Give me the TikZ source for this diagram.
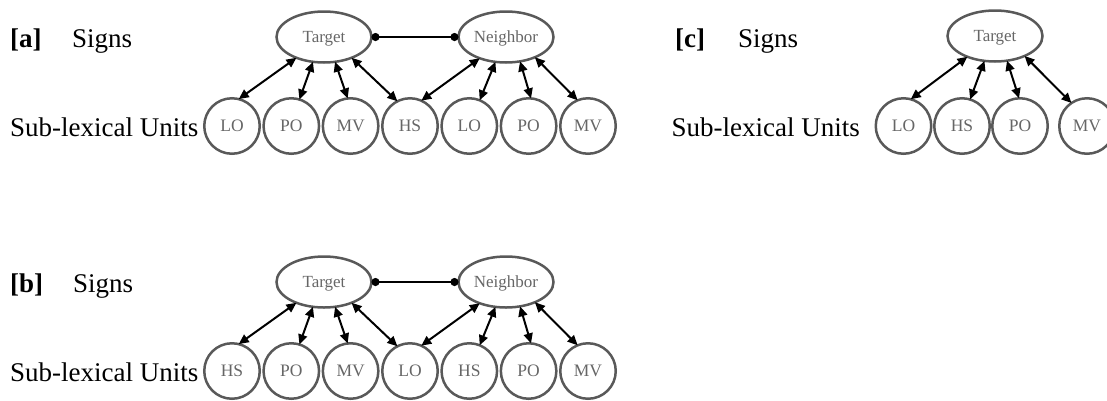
\documentclass[tikz,border=0pt]{standalone}
\usepackage{fontspec}
\setmainfont{Liberation Serif}
\usetikzlibrary{shapes.geometric,arrows.meta}
\definecolor{edgegray}{HTML}{595959}
\definecolor{txtgray}{HTML}{666666}
\tikzset{
  sign/.style={ellipse,draw=edgegray,line width=2.5pt,minimum width=95pt,minimum height=51pt,inner sep=0pt,outer sep=0pt,
    text=txtgray,font=\fontsize{17pt}{20pt}\selectfont,text height=11pt,text depth=0pt},
  unit/.style={circle,draw=edgegray,line width=2.5pt,minimum size=55.5pt,inner sep=0pt,outer sep=0pt,
    text=txtgray,font=\fontsize{17.5pt}{20pt}\selectfont,text height=11.5pt,text depth=0pt},
  lab/.style={inner sep=0pt,font=\fontsize{27pt}{32pt}\selectfont},
  panel/.style={lab,font=\fontsize{27pt}{32pt}\selectfont\bfseries},
  rel/.style={{Triangle[length=10pt,width=9pt]}-{Triangle[length=10pt,width=9pt]},line width=2pt,black},
  link/.style={{Circle[length=8pt]}-{Circle[length=8pt]},line width=2.5pt,black}
}
\begin{document}
\begin{tikzpicture}[x=1pt,y=-1pt]
\useasboundingbox (0,0) rectangle (1107,400);
% ---------- panel a ----------
\node[panel,anchor=base west] (pa) at (10,47) {[a]};
\node[lab,anchor=base west] (sa) at (72,47) {Signs};
\node[lab,anchor=base west] (ua) at (10,136) {Sub-lexical Units};
\node[sign] (Ta) at (324,37) {Target};
\node[sign] (Na) at (506,37) {Neighbor};
\node[unit] (a1) at (232,126) {LO};
\node[unit] (a2) at (291.3,126) {PO};
\node[unit] (a3) at (350.6,126) {MV};
\node[unit] (a4) at (410,126) {HS};
\node[unit] (a5) at (469.3,126) {LO};
\node[unit] (a6) at (528.6,126) {PO};
\node[unit] (a7) at (588,126) {MV};
\draw[link] (Ta.east) -- (Na.west);
\draw[rel] (Ta.-143) -- (a1.76);
\draw[rel] (Ta.-114) -- (a2.73);
\draw[rel] (Ta.-66) -- (a3.96);
\draw[rel] (Ta.-37) -- (a4.117);
\draw[rel] (Na.-141) -- (a4.66);
\draw[rel] (Na.-113) -- (a5.68);
\draw[rel] (Na.-60) -- (a6.85);
\draw[rel] (Na.-35) -- (a7.112);
% ---------- panel b ----------
\node[panel,anchor=base west] (pb) at (10,292) {[b]};
\node[lab,anchor=base west] (sb) at (73,292) {Signs};
\node[lab,anchor=base west] (ub) at (10,381) {Sub-lexical Units};
\node[sign] (Tb) at (324,282) {Target};
\node[sign] (Nb) at (506,282) {Neighbor};
\node[unit] (b1) at (232,371) {HS};
\node[unit] (b2) at (291.3,371) {PO};
\node[unit] (b3) at (350.6,371) {MV};
\node[unit] (b4) at (410,371) {LO};
\node[unit] (b5) at (469.3,371) {HS};
\node[unit] (b6) at (528.6,371) {PO};
\node[unit] (b7) at (588,371) {MV};
\draw[link] (Tb.east) -- (Nb.west);
\draw[rel] (Tb.-143) -- (b1.76);
\draw[rel] (Tb.-114) -- (b2.73);
\draw[rel] (Tb.-66) -- (b3.96);
\draw[rel] (Tb.-37) -- (b4.117);
\draw[rel] (Nb.-141) -- (b4.66);
\draw[rel] (Nb.-113) -- (b5.68);
\draw[rel] (Nb.-60) -- (b6.85);
\draw[rel] (Nb.-35) -- (b7.112);
% ---------- panel c ----------
\node[panel,anchor=base west] (pc) at (675,47) {[c]};
\node[lab,anchor=base west] (sc) at (738,47) {Signs};
\node[lab,anchor=base east] (uc) at (860,136) {Sub-lexical Units};
\node[sign] (Tc) at (995,36) {Target};
\node[unit] (c1) at (903.5,126) {LO};
\node[unit] (c2) at (962,126) {HS};
\node[unit] (c3) at (1020,126) {PO};
\node[unit] (c4) at (1087,126) {MV};
\draw[rel] (Tc.-143) -- (c1.75);
\draw[rel] (Tc.-113) -- (c2.73);
\draw[rel] (Tc.-64) -- (c3.92);
\draw[rel] (Tc.-34) -- (c4.124);
\end{tikzpicture}
\end{document}
